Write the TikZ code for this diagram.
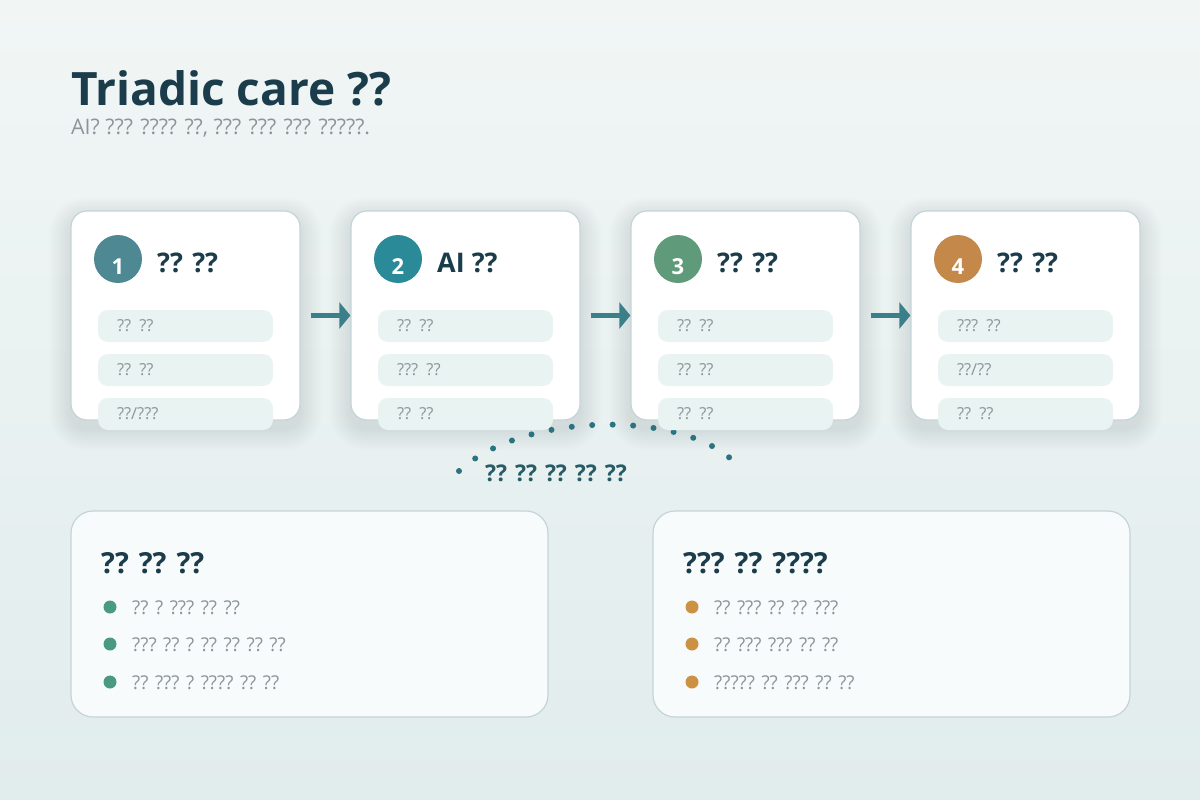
\documentclass[tikz,border=0pt]{standalone}
\usepackage{fontspec}
\setmainfont{Open Sans}
\usetikzlibrary{arrows.meta}

\definecolor{inkblue}{HTML}{1B3C4A}
\definecolor{softgray}{HTML}{8C9599}
\definecolor{cardline}{HTML}{C3D5D9}
\definecolor{pillfill}{HTML}{E9F3F2}
\definecolor{flowteal}{HTML}{3A7F8A}
\definecolor{dotteal}{HTML}{2A7380}
\definecolor{labelteal}{HTML}{275B66}
\definecolor{panelfill}{HTML}{F7FBFC}
\definecolor{panelline}{HTML}{C5D4D8}
\definecolor{bgtop}{HTML}{F1F6F5}
\definecolor{bgbottom}{HTML}{E1ECED}
\definecolor{stepone}{HTML}{4E8892}
\definecolor{steptwo}{HTML}{2A8A98}
\definecolor{stepthree}{HTML}{5F9A7A}
\definecolor{stepfour}{HTML}{C4894A}
\definecolor{bulletgreen}{HTML}{4A9A80}
\definecolor{bulletorange}{HTML}{CD9143}

\tikzset{
  card/.style={draw=cardline, line width=1.2pt, fill=white, rounded corners=16pt,
    minimum width=229pt, minimum height=209pt},
  badge/.style={circle, minimum size=48pt, inner sep=0pt},
  badgenum/.style={text=white, inner sep=0pt, font=\bfseries\fontsize{22}{26}\selectfont},
  cardtitle/.style={anchor=base west, inner sep=0pt, text=inkblue,
    font=\bfseries\fontsize{27}{32}\selectfont},
  pill/.style={fill=pillfill, rounded corners=10pt, minimum width=175pt, minimum height=32pt,
    text width=137pt, inner xsep=19pt, inner ysep=0pt, align=left, text=softgray,
    font=\fontsize{16.5}{20}\selectfont},
  flowarrow/.style={draw=flowteal, line width=4.5pt, shorten <=10pt,
    -{Triangle[length=11pt,width=26pt]}},
  panel/.style={draw=panelline, line width=1.2pt, fill=panelfill, rounded corners=22pt,
    minimum width=477pt, minimum height=206pt},
  paneltitle/.style={anchor=base west, inner sep=0pt, text=inkblue,
    font=\bfseries\fontsize{29}{34}\selectfont},
  bullet/.style={circle, minimum size=13pt, inner sep=0pt},
  itemtext/.style={anchor=base west, inner sep=0pt, text=softgray,
    font=\fontsize{19}{23}\selectfont}
}

\begin{document}
\begin{tikzpicture}[x=1pt, y=-1pt]
\useasboundingbox (0,0) rectangle (1200,800);
\shade[top color=bgtop, bottom color=bgbottom] (0,0) rectangle (1200,800);

% heading
\node[anchor=base west, inner sep=0pt, text=inkblue, font=\bfseries\fontsize{46}{56}\selectfont] (heading) at (71,105) {Triadic care ??};
\node[anchor=base west, inner sep=0pt, text=softgray, font=\fontsize{21.4}{26}\selectfont] (subheading) at (71,134) {AI? ??? ???? ??, ??? ??? ??? ?????.};

% soft shadows behind the cards
\foreach \cx in {185.5,465.5,745.5,1025.5}
  \foreach \s in {2,4,...,22}
    \fill[black, opacity=.007, rounded corners=16pt+\s pt] (\cx-114.5-\s,219-\s) rectangle (\cx+114.5+\s,428+\s);

% dotted arc under the cards
\coordinate (arcL) at (459,471);
\coordinate (arcR) at (738,466);
\draw[dotteal, line width=6pt, line cap=round, dash pattern=on 0pt off 20.5pt]
  (arcL) .. controls (525,410) and (690,410) .. (arcR);

% cards
\node[card] (card1) at (185.5,315.5) {};
\node[card] (card2) at (465.5,315.5) {};
\node[card] (card3) at (745.5,315.5) {};
\node[card] (card4) at (1025.5,315.5) {};

\node[badge, fill=stepone] (badge1) at (118,259) {};
\node[badge, fill=steptwo] (badge2) at (398,259) {};
\node[badge, fill=stepthree] (badge3) at (678,259) {};
\node[badge, fill=stepfour] (badge4) at (958,259) {};
\node[badgenum] (num1) at (118,267) {1};
\node[badgenum] (num2) at (398,267) {2};
\node[badgenum] (num3) at (678,267) {3};
\node[badgenum] (num4) at (958,267) {4};

\node[cardtitle] (title1) at (157,272) {?? ??};
\node[cardtitle] (title2) at (437,272) {AI ??};
\node[cardtitle] (title3) at (717,272) {?? ??};
\node[cardtitle] (title4) at (997,272) {?? ??};

\node[pill] (pill11) at (185.5,326) {?? ??};
\node[pill] (pill12) at (185.5,370) {?? ??};
\node[pill] (pill13) at (185.5,414) {??/???};
\node[pill] (pill21) at (465.5,326) {?? ??};
\node[pill] (pill22) at (465.5,370) {??? ??};
\node[pill] (pill23) at (465.5,414) {?? ??};
\node[pill] (pill31) at (745.5,326) {?? ??};
\node[pill] (pill32) at (745.5,370) {?? ??};
\node[pill] (pill33) at (745.5,414) {?? ??};
\node[pill] (pill41) at (1025.5,326) {??? ??};
\node[pill] (pill42) at (1025.5,370) {??/??};
\node[pill] (pill43) at (1025.5,414) {?? ??};

\draw[flowarrow] (card1.east) -- (card2.west);
\draw[flowarrow] (card2.east) -- (card3.west);
\draw[flowarrow] (card3.east) -- (card4.west);

\node[text=labelteal, inner sep=0pt, font=\bfseries\fontsize{23}{27}\selectfont] (arclabel) at (556,473) {?? ?? ?? ?? ??};

% lower panels
\node[panel] (carepanel) at (309.5,614) {};
\node[panel] (riskpanel) at (891.5,614) {};

\node[paneltitle] (caretitle) at (101,573) {?? ?? ??};
\node[bullet, fill=bulletgreen] (cb1) at (110,607) {};
\node[bullet, fill=bulletgreen] (cb2) at (110,644) {};
\node[bullet, fill=bulletgreen] (cb3) at (110,682) {};
\node[itemtext] (ct1) at (132,614) {?? ? ??? ?? ??};
\node[itemtext] (ct2) at (132,651) {??? ?? ? ?? ?? ?? ??};
\node[itemtext] (ct3) at (132,689) {?? ??? ? ???? ?? ??};

\node[paneltitle] (risktitle) at (683,573) {??? ?? ????};
\node[bullet, fill=bulletorange] (rb1) at (692,607) {};
\node[bullet, fill=bulletorange] (rb2) at (692,644) {};
\node[bullet, fill=bulletorange] (rb3) at (692,682) {};
\node[itemtext] (rt1) at (714,614) {?? ??? ?? ?? ???};
\node[itemtext] (rt2) at (714,651) {?? ??? ??? ?? ??};
\node[itemtext] (rt3) at (714,689) {????? ?? ??? ?? ??};
\end{tikzpicture}
\end{document}
